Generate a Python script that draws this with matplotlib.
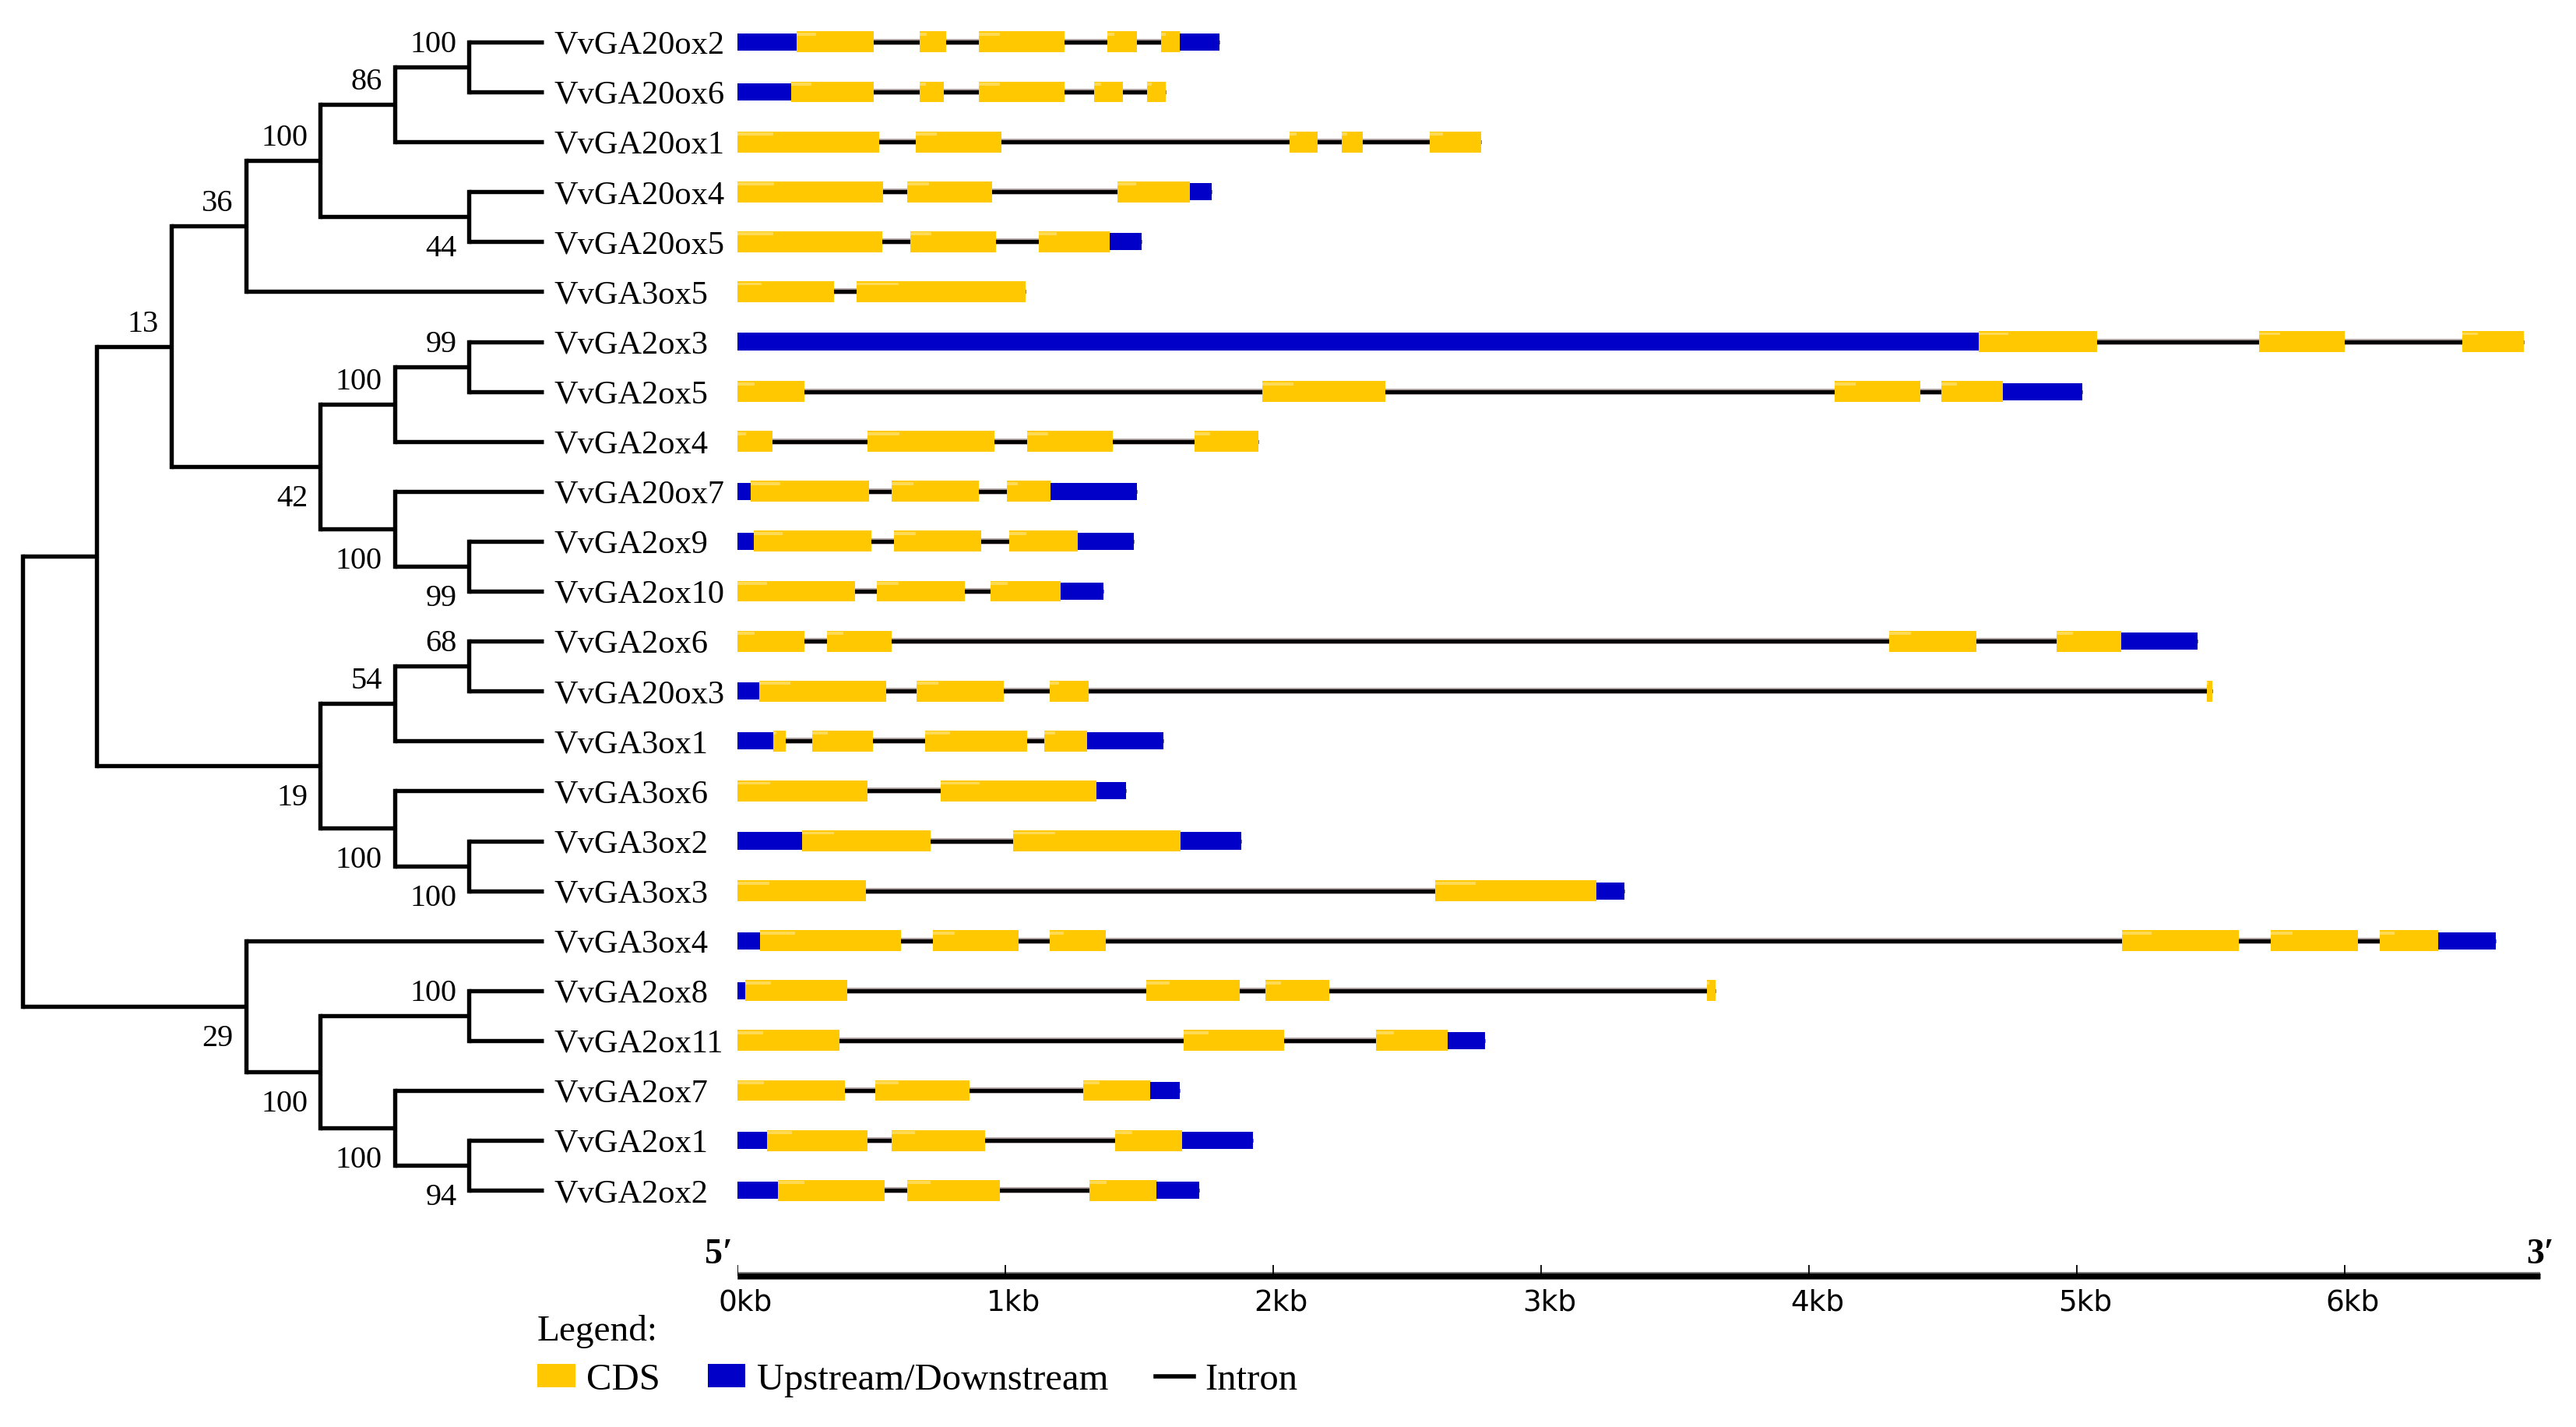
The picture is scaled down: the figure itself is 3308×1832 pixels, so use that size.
import matplotlib
matplotlib.use('Agg')
import matplotlib.pyplot as plt
from matplotlib.patches import Patch
from matplotlib.lines import Line2D

# Leaf order, top to bottom
genes = ['VvGA20ox2', 'VvGA20ox6', 'VvGA20ox1', 'VvGA20ox4', 'VvGA20ox5', 'VvGA3ox5',
         'VvGA2ox3', 'VvGA2ox5', 'VvGA2ox4', 'VvGA20ox7', 'VvGA2ox9', 'VvGA2ox10',
         'VvGA2ox6', 'VvGA20ox3', 'VvGA3ox1', 'VvGA3ox6', 'VvGA3ox2', 'VvGA3ox3',
         'VvGA3ox4', 'VvGA2ox8', 'VvGA2ox11', 'VvGA2ox7', 'VvGA2ox1', 'VvGA2ox2']

# Internal nodes of the tree (children listed before parents)
clade_names = ['A', 'B', 'C', 'D', 'E', 'F', 'G', 'H', 'I', 'J', 'K', 'L', 'M', 'N',
               'O', 'P', 'Q', 'R', 'S', 'T', 'U', 'V', 'root']
clade_upper = ['VvGA20ox2', 'A', 'VvGA20ox4', 'B', 'D', 'VvGA2ox3', 'F', 'VvGA2ox9',
               'VvGA20ox7', 'G', 'E', 'VvGA2ox6', 'L', 'VvGA3ox2', 'VvGA3ox6', 'M', 'K',
               'VvGA2ox8', 'VvGA2ox1', 'VvGA2ox7', 'R', 'VvGA3ox4', 'Q']
clade_lower = ['VvGA20ox6', 'VvGA20ox1', 'VvGA20ox5', 'C', 'VvGA3ox5', 'VvGA2ox5', 'VvGA2ox4',
               'VvGA2ox10', 'H', 'I', 'J', 'VvGA20ox3', 'VvGA3ox1', 'VvGA3ox3', 'N', 'O', 'P',
               'VvGA2ox11', 'VvGA2ox2', 'S', 'T', 'U', 'V']
clade_support = [100, 86, 44, 100, 36, 99, 100, 99, 100, 42, 13, 68, 54, 100,
                 100, 19, None, 100, 94, 100, 100, 29, None]

# Gene structures in kb: (kind, start, end); U = upstream/downstream, C = CDS
structures = [
    [('U', 0, .22), ('C', .22, .51), ('C', .68, .78), ('C', .90, 1.22), ('C', 1.38, 1.49), ('C', 1.58, 1.65), ('U', 1.65, 1.80)],
    [('U', 0, .20), ('C', .20, .51), ('C', .68, .77), ('C', .90, 1.22), ('C', 1.33, 1.44), ('C', 1.53, 1.60)],
    [('C', 0, .53), ('C', .665, .985), ('C', 2.06, 2.165), ('C', 2.255, 2.335), ('C', 2.585, 2.775)],
    [('C', 0, .545), ('C', .635, .95), ('C', 1.42, 1.69), ('U', 1.69, 1.77)],
    [('C', 0, .54), ('C', .645, .965), ('C', 1.125, 1.39), ('U', 1.39, 1.51)],
    [('C', 0, .36), ('C', .445, 1.075)],
    [('U', 0, 4.635), ('C', 4.635, 5.075), ('C', 5.68, 6.0), ('C', 6.44, 6.67)],
    [('C', 0, .25), ('C', 1.96, 2.42), ('C', 4.095, 4.415), ('C', 4.495, 4.725), ('U', 4.725, 5.02)],
    [('C', 0, .13), ('C', .485, .96), ('C', 1.08, 1.40), ('C', 1.705, 1.945)],
    [('U', 0, .05), ('C', .05, .49), ('C', .575, .90), ('C', 1.005, 1.17), ('U', 1.17, 1.49)],
    [('U', 0, .06), ('C', .06, .50), ('C', .585, .91), ('C', 1.015, 1.27), ('U', 1.27, 1.48)],
    [('C', 0, .44), ('C', .52, .85), ('C', .945, 1.205), ('U', 1.205, 1.365)],
    [('C', 0, .25), ('C', .335, .575), ('C', 4.30, 4.625), ('C', 4.925, 5.165), ('U', 5.165, 5.45)],
    [('U', 0, .08), ('C', .08, .555), ('C', .67, .995), ('C', 1.165, 1.31), ('C', 5.485, 5.505)],
    [('U', 0, .135), ('C', .135, .18), ('C', .28, .505), ('C', .70, 1.08), ('C', 1.145, 1.305), ('U', 1.305, 1.59)],
    [('C', 0, .485), ('C', .76, 1.34), ('U', 1.34, 1.45)],
    [('U', 0, .24), ('C', .24, .72), ('C', 1.03, 1.655), ('U', 1.655, 1.88)],
    [('C', 0, .48), ('C', 2.605, 3.205), ('U', 3.205, 3.31)],
    [('U', 0, .085), ('C', .085, .61), ('C', .73, 1.05), ('C', 1.165, 1.375), ('C', 5.17, 5.605), ('C', 5.725, 6.05), ('C', 6.13, 6.35), ('U', 6.35, 6.565)],
    [('U', 0, .03), ('C', .03, .41), ('C', 1.525, 1.875), ('C', 1.97, 2.21), ('C', 3.62, 3.65)],
    [('C', 0, .38), ('C', 1.665, 2.04), ('C', 2.385, 2.65), ('U', 2.65, 2.79)],
    [('C', 0, .40), ('C', .515, .865), ('C', 1.29, 1.54), ('U', 1.54, 1.65)],
    [('U', 0, .11), ('C', .11, .485), ('C', .575, .925), ('C', 1.41, 1.66), ('U', 1.66, 1.925)],
    [('U', 0, .15), ('C', .15, .55), ('C', .635, .98), ('C', 1.315, 1.565), ('U', 1.565, 1.725)],
]

scale_ticks = [0, 1, 2, 3, 4, 5, 6]
scale_end = 6.73

CDS_COLOR = '#FFC800'
CDS_LIGHT = '#FFDA55'
UTR_COLOR = '#0000C8'
SERIF = ['Liberation Serif', 'DejaVu Serif']

W, H = 3308, 1833
fig = plt.figure(figsize=(W / 100, H / 100), dpi=100)

# shared vertical layout: row i sits at 54.9 + 64.1*i px from the top
ylim = ((H - 54.9) / 64.1, -54.9 / 64.1)
split = 947  # px where the gene panel starts

ax_tree = fig.add_axes([0, 0, split / W, 1])
ax_tree.set_xlim(698 / 95.6, (698 - split) / 95.6)
ax_tree.set_ylim(*ylim)
ax_tree.axis('off')

ax_gene = fig.add_axes([split / W, 0, 1 - split / W, 1])
ax_gene.set_xlim(0, (W - split) / 344)
ax_gene.set_ylim(*ylim)
ax_gene.axis('off')

# ---- tree layout ----
depth = {g: 0 for g in genes}
ypos = {g: float(i) for i, g in enumerate(genes)}
parent_side = {}
for name, up, lo in zip(clade_names, clade_upper, clade_lower):
    depth[name] = max(depth[up], depth[lo]) + 1
    ypos[name] = (ypos[up] + ypos[lo]) / 2
    parent_side[up] = 'upper'
    parent_side[lo] = 'lower'

TREE_LW = 3.9
for name, up, lo in zip(clade_names, clade_upper, clade_lower):
    x = depth[name]
    ax_tree.plot([x, x], [ypos[up], ypos[lo]], color='black', lw=TREE_LW,
                 solid_capstyle='projecting')
    for ch in (up, lo):
        ax_tree.plot([x, depth[ch]], [ypos[ch], ypos[ch]], color='black', lw=TREE_LW,
                     solid_capstyle='butt')

for name, sup in zip(clade_names, clade_support):
    if sup is None:
        continue
    dy = 14.4 if parent_side.get(name) == 'upper' else -36
    ax_tree.annotate(str(sup), (depth[name], ypos[name]), xytext=(-11.5, dy),
                     textcoords='offset points', ha='right', va='baseline',
                     family=SERIF, fontsize=29)

for g in genes:
    ax_tree.annotate(g, (0, ypos[g]), xytext=(9.4, -10), textcoords='offset points',
                     ha='left', va='baseline', family=SERIF, fontsize=30.5)

# ---- gene structures ----
for i, segs in enumerate(structures):
    gene_end = max(s[2] for s in segs)
    ax_gene.hlines(i, 0, gene_end, color='#a09090', lw=5.4, zorder=1)
    ax_gene.hlines(i, 0, gene_end, color='black', lw=3.6, zorder=2)
    for kind, start, end in segs:
        if kind == 'C':
            ax_gene.barh(i, end - start, left=start, height=0.42, color=CDS_COLOR,
                         linewidth=0, zorder=3)
            # soft highlight on the upper-left part of each exon
            ax_gene.barh(i - 0.155, (end - start) * 0.25, left=start, height=0.06,
                         color=CDS_LIGHT, linewidth=0, zorder=4)
        else:
            ax_gene.barh(i, end - start, left=start, height=0.345, color=UTR_COLOR,
                         linewidth=0, zorder=3)

# ---- scale bar ----
y_scale = (1639 - 54.9) / 64.1
ax_gene.hlines(y_scale, 0, scale_end, color='#808080', lw=7.2, clip_on=False)
ax_gene.hlines(y_scale, 0, scale_end, color='black', lw=5.2, clip_on=False)
ax_gene.vlines(scale_ticks, y_scale - 0.22, y_scale, color='black', lw=1.3)
for k in scale_ticks:
    ax_gene.text(k + 0.03, y_scale + 0.24, f'{k}kb', ha='center', va='top',
                 family='DejaVu Sans', fontsize=27)
ax_gene.text(-0.07, y_scale - 0.27, '5\u2032', ha='center', va='baseline',
             family=SERIF, fontsize=33, fontweight='bold', clip_on=False)
ax_gene.text(scale_end, y_scale - 0.27, '3\u2032', ha='center', va='baseline',
             family=SERIF, fontsize=33, fontweight='bold')

# ---- legend ----
handles = [Patch(facecolor=CDS_COLOR, linewidth=0), Patch(facecolor=UTR_COLOR, linewidth=0),
           Line2D([], [], color='black', lw=4)]
labels = ['CDS', 'Upstream/Downstream', 'Intron']
fig.legend(handles, labels, loc='upper left', bbox_to_anchor=(690 / W, 1 - 1688 / H),
           ncol=3, frameon=False, title='Legend:', alignment='left',
           prop={'family': SERIF, 'size': 35},
           title_fontproperties={'family': SERIF, 'size': 34},
           handlelength=1.0, handleheight=0.56, handletextpad=0.3, columnspacing=1.25,
           borderpad=0, borderaxespad=0, labelspacing=0.4)

fig.savefig('out.png', dpi=100, facecolor='white')
